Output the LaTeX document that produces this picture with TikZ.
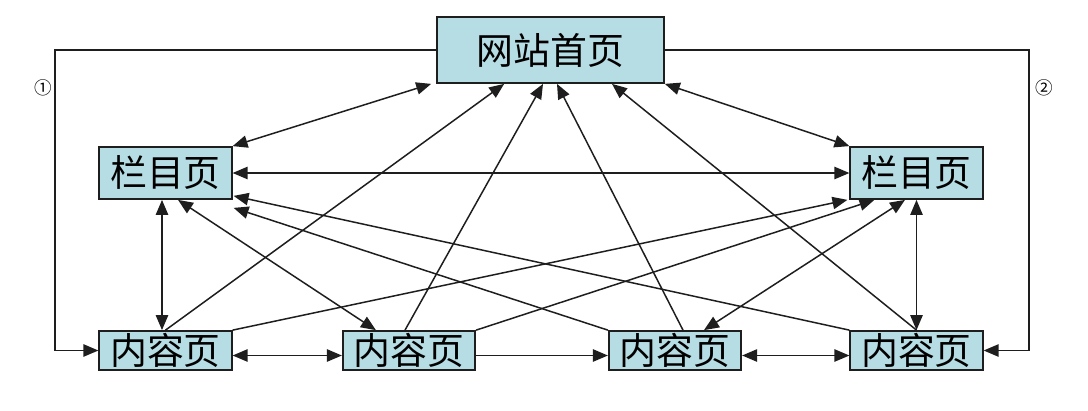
\documentclass[tikz,border=0pt]{standalone}
\usepackage{fontspec}
\newfontfamily\cjk{Noto Sans CJK SC}
\usetikzlibrary{calc}
\usetikzlibrary{arrows.meta}
\definecolor{pagefill}{RGB}{183,221,228}
\definecolor{linegray}{RGB}{30,30,30}

\begin{document}
\begin{tikzpicture}[x=.02cm,y=-.02cm,
  page/.style={draw=linegray,fill=pagefill,line width=1pt,inner sep=0,font=\cjk\fontsize{21}{21}\selectfont},
  colpage/.style={page,minimum width=2.65cm,minimum height=1.04cm},
  textpage/.style={page,minimum width=2.65cm,minimum height=.78cm},
  link/.style={linegray,line width=.85pt,>={Triangle[length=8.5pt,width=7pt]}},
  tag/.style={font=\cjk\fontsize{10}{10}\selectfont,inner sep=0}]
\useasboundingbox (0,0) rectangle (1088,410);
\node[page,minimum width=4.54cm,minimum height=1.32cm] (home) at (550.5,50) {网站首页};
\node[colpage] (colL) at (165.5,173) {栏目页};
\node[colpage] (colR) at (916.5,173) {栏目页};
\node[textpage] (c1) at (165.5,350.5) {内容页};
\node[textpage] (c2) at (409,350.5) {内容页};
\node[textpage] (c3) at (675,350.5) {内容页};
\node[textpage] (c4) at (916.5,350.5) {内容页};
\node[tag] (n1) at (43,88) {①};
\node[tag] (n2) at (1044,88) {②};
\coordinate (loopL) at (55,50);
\coordinate (loopR) at (1029,50);
\draw[link,->] (home.west) -- (loopL) |- (c1.west);
\draw[link,->] (home.east) -- (loopR) |- (c4.east);
\draw[link,<->] ($(home.south west)+(-5,0)$) -- (colL.north east);
\draw[link,<->] (home.south east) -- (colR.north west);
\draw[link,<->] (colL.east) -- (colR.west);
\draw[link,<->] ([xshift=-.07cm]colL.south) -- ([xshift=-.07cm]c1.north);
\draw[link,<->] (colR.south) -- (c4.north);
\draw[link,<->] ([yshift=-.1cm]c1.east) -- ([yshift=-.1cm]c2.west);
\draw[link,->] ([yshift=-.1cm]c2.east) -- ([yshift=-.1cm]c3.west);
\draw[link,<->] ([yshift=-.1cm]c3.east) -- ([yshift=-.1cm]c4.west);
\draw[link,->] (c1.north) -- ($(home.south west)+(68,0)$);
\draw[link,->] ($(c2.north)+(-4,0)$) -- ($(home.south)+(-7.5,0)$);
\draw[link,->] ($(c3.north)+(8,0)$) -- ($(home.south)+(6.5,0)$);
\draw[link,->] (c4.north) -- ($(home.south)+(61.5,0)$);
\draw[link,<->] ($(colL.south)+(12.5,0)$) -- ($(c2.north west)+(34,0)$);
\draw[link,->] (c3.north west) -- ($(colL.south east)+(1,8)$);
\draw[link,->] (c4.north west) -- ($(colL.south east)+(1,-4)$);
\draw[link,->] (c1.north east) -- ($(colR.south west)+(-2,0)$);
\draw[link,->] (c2.north east) -- ($(colR.south west)+(25,0)$);
\draw[link,<->] ($(colR.south)+(-11.5,0)$) -- ($(c3.north)+(29,0)$);
\end{tikzpicture}
\end{document}
